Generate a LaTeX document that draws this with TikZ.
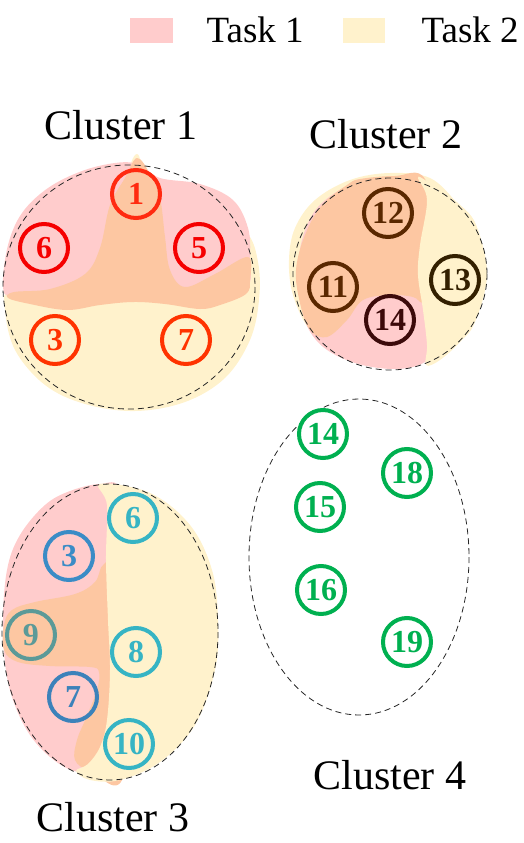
\documentclass[tikz,border=0pt]{standalone}
\usepackage{fontspec}
\setmainfont{Liberation Serif}
\newfontfamily\timesfont{Liberation Serif}
\usepackage{tikz}

\definecolor{taskpink}{HTML}{FFCCCC}
\definecolor{taskyellow}{HTML}{FFF2CC}
\definecolor{taskboth}{HTML}{FDC7A2}
% colours of the members
\definecolor{redA}{HTML}{F50000}
\definecolor{redB}{HTML}{FF2A10}
\definecolor{redC}{HTML}{FF3300}
\definecolor{brownA}{HTML}{5A2800}
\definecolor{brownB}{HTML}{3C0A0A}
\definecolor{brownC}{HTML}{332000}
\definecolor{tealA}{HTML}{36B4C4}
\definecolor{blueA}{HTML}{3A8CC6}
\definecolor{blueB}{HTML}{3C82BA}
\definecolor{grayT}{HTML}{5B9A98}
\definecolor{greenA}{HTML}{00B050}

\begin{document}
\begin{tikzpicture}[x=1pt, y=-1pt,
  mnode/.style={circle, draw=#1, text=#1, line width=4pt, minimum size=48pt,
    inner sep=0pt, font=\timesfont\bfseries\fontsize{32}{32}\selectfont},
  clabel/.style={anchor=base, font=\timesfont\fontsize{42}{42}\selectfont},
  cbound/.style={draw=black!85, dash pattern=on 6pt off 4pt, line width=0.8pt}]
\useasboundingbox (0,0) rectangle (524,843);

% legend
\fill[taskpink] (130,18) rectangle (173,43);
\node[anchor=base west, font=\timesfont\fontsize{37}{37}\selectfont] (leg1) at (203,43) {Task 1};
\fill[taskyellow] (343,18) rectangle (385,43);
\node[anchor=base west, font=\timesfont\fontsize{37}{37}\selectfont] (leg2) at (418,43) {Task 2};

% cluster 1 areas
\fill[taskyellow] plot[smooth cycle, tension=0.6] coordinates {(137,154) (150,178) (200,192) (245,230)
  (258,262) (259,300) (250,340) (225,378) (185,402) (135,411) (85,404) (45,385) (15,350) (5,310)
  (10,290) (60,285) (105,240) (125,180)};
\fill[taskpink] plot[smooth cycle, tension=0.6] coordinates {(3,285) (8,245) (22,213) (48,188) (82,171)
  (115,163) (137,164) (160,178) (200,184) (233,200) (248,228) (250,258) (246,288) (200,297)
  (130,295) (60,298) (12,297)};
\fill[taskboth] plot[smooth cycle, tension=0.6] coordinates {(137,158) (150,174) (160,198) (165,237)
  (170,270) (185,287) (215,274) (248,257) (250,280) (246,294) (220,305) (200,309) (165,304)
  (133,302) (100,305) (67,310) (30,304) (8,298) (14,292) (50,289) (85,274) (100,248) (110,205)
  (125,178)};

% cluster 2 areas
\fill[taskyellow] plot[smooth cycle, tension=0.6] coordinates {(390,173) (430,178) (458,204) (476,225)
  (486,274) (474,322) (440,356) (395,364) (340,352) (310,330) (293,295) (289,260) (295,228)
  (315,200) (350,180)};
\fill[taskpink] plot[smooth cycle, tension=0.6] coordinates {(352,184) (385,182) (420,184) (440,220)
  (440,340) (425,362) (395,369) (355,363) (322,346) (304,318) (299,275) (302,240) (318,207)};
\fill[taskboth] plot[smooth cycle, tension=0.6] coordinates {(360,179) (395,176) (425,179) (440,250)
  (440,300) (423,303) (413,297) (390,295) (363,300) (347,320) (327,337) (310,330) (300,303)
  (296,270) (305,235) (322,205) (347,185)};
\fill[taskyellow] plot[smooth cycle, tension=0.6] coordinates {(418,178) (427,200) (420,245) (418,275)
  (423,310) (427,345) (426,365) (440,360) (460,342) (475,322) (487,274) (476,225) (459,204)
  (438,189) (425,180)};

% cluster 3 areas
\fill[taskpink] plot[smooth cycle, tension=0.6] coordinates {(100,484) (120,490) (125,560) (125,700)
  (110,760) (80,772) (50,757) (25,727) (8,682) (3,625) (7,570) (20,535) (45,505) (70,491)};
\fill[taskboth] plot[smooth cycle, tension=0.6] coordinates {(104,564) (125,565) (125,770) (90,770)
  (75,760) (77,740) (86,718) (97,690) (99,672) (90,667) (50,666) (18,662) (4,650) (4,625)
  (12,610) (35,602) (75,594) (95,582)};
\fill[taskyellow] plot[smooth cycle, tension=0.6] coordinates {(100,484) (107,505) (106,560) (108,620)
  (110,670) (107,720) (100,747) (88,764) (76,771) (90,780) (120,780) (160,762) (195,725)
  (215,670) (218,620) (212,570) (190,525) (150,493)};

% cluster borders
\draw[cbound] (129,287) ellipse [x radius=126, y radius=122];
\draw[cbound] (390,274) ellipse [x radius=97, y radius=96];
\draw[cbound] (110,632) ellipse [x radius=108, y radius=148];
\draw[cbound] (359,557) ellipse [x radius=110, y radius=158];

% members
\foreach \px/\py/\lbl/\clr in {136/194/1/redB, 44/248/6/redA, 199/248/5/redA, 55/340/3/redC, 186/340/7/redC}
  \node[mnode=\clr] (c1n\lbl) at (\px,\py) {\lbl};
\foreach \px/\py/\lbl/\clr in {388/213/12/brownA, 333/287/11/brownA, 390/320/14/brownB, 455/280/13/brownC}
  \node[mnode=\clr] (c2n\lbl) at (\px,\py) {\lbl};
\foreach \px/\py/\lbl/\clr in {133/518/6/tealA, 69/556/3/blueA, 31/635/9/grayT, 136/652/8/tealA,
  73/697/7/blueB, 129/744/10/tealA}
  \node[mnode=\clr] (c3n\lbl) at (\px,\py) {\lbl};
\foreach \px/\py/\lbl in {323/434/14, 407/473/18, 320/507/15, 321/590/16, 407/642/19}
  \node[mnode=greenA] (c4n\lbl) at (\px,\py) {\lbl};

% cluster names
\node[clabel] (lab1) at (121,139) {Cluster 1};
\node[clabel] (lab2) at (386,148) {Cluster 2};
\node[clabel] (lab3) at (113,831) {Cluster 3};
\node[clabel] (lab4) at (390,789) {Cluster 4};
\end{tikzpicture}
\end{document}
